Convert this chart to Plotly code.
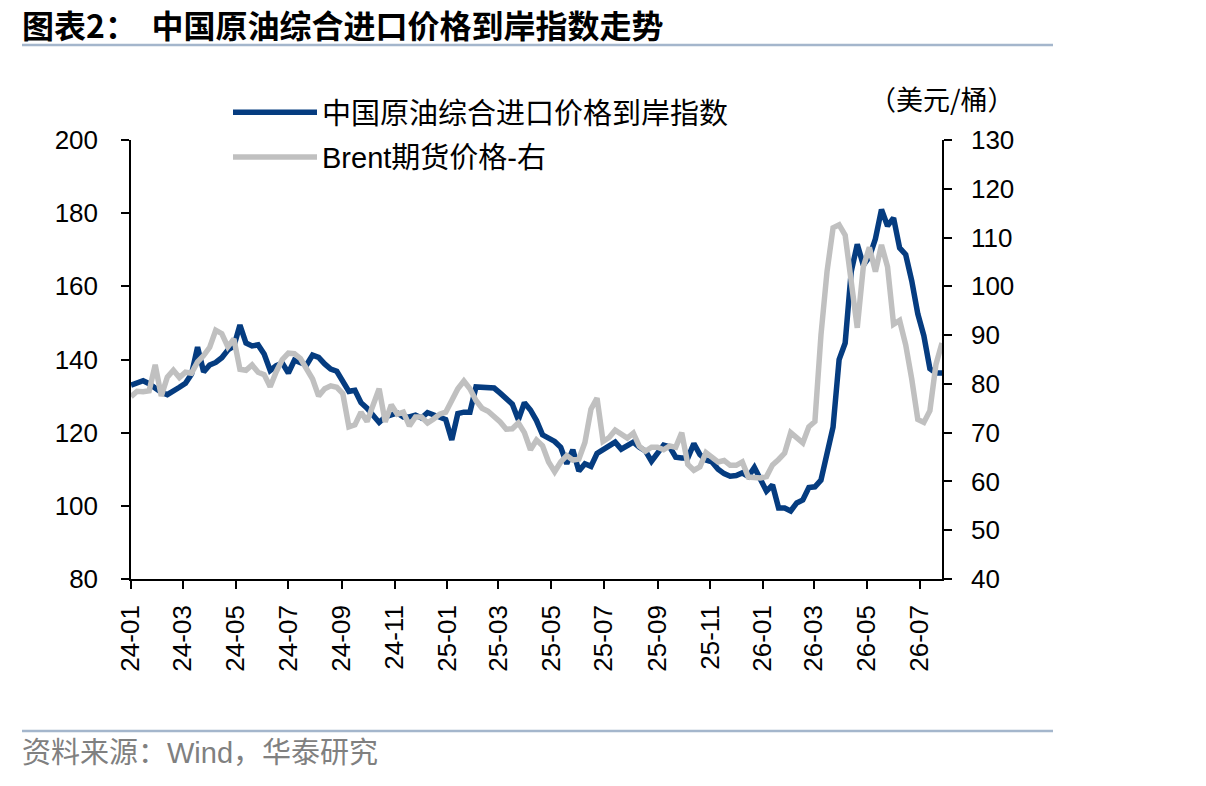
import pandas as pd
import plotly.graph_objects as go

# Weekly observation dates
dates = pd.date_range("2024-01-01", periods=135, freq="7D")

# 中国原油综合进口价格到岸指数 (left axis)
china_index = [
    133.0, 133.8, 134.2, 133.4, 132.2, 131.0, 130.4, 131.6, 132.4, 133.5,
    136.0, 143.4, 136.6, 138.5, 139.2, 140.5, 142.6, 143.6, 149.4, 144.5,
    143.7, 144.0, 141.5, 137.0, 138.3, 139.0, 136.3, 139.8, 139.0, 138.5,
    141.2, 140.6, 138.8, 137.4, 136.8, 134.0, 131.3, 131.6, 128.2, 126.7,
    124.8, 122.8, 124.3, 124.8, 125.4, 124.3, 124.3, 124.8, 124.0, 125.5,
    124.8, 124.0, 123.6, 118.0, 125.2, 125.6, 125.6, 132.5, 132.4, 132.2,
    132.2, 130.8, 129.3, 127.8, 123.5, 128.2, 126.2, 123.3, 119.4, 118.7,
    117.6, 116.0, 111.5, 115.3, 109.5, 111.5, 110.8, 114.3, 115.3, 116.0,
    117.4, 115.5, 116.6, 117.4, 116.0, 115.0, 112.2, 114.7, 116.6, 116.1,
    113.3, 113.1, 113.1, 117.0, 114.0, 112.5, 112.0, 110.0, 108.8, 108.1,
    108.3, 109.0, 108.0, 110.5, 107.0, 104.0, 105.7, 99.4, 99.4, 98.6,
    100.8, 101.6, 105.0, 105.2, 107.0, 114.0, 121.5, 140.0, 144.5, 164.0,
    171.5, 165.8, 168.0, 173.0, 181.0, 176.5, 178.7, 170.5, 168.7, 161.5,
    152.5, 146.5, 137.5, 136.3, 136.3,
]

# Brent期货价格 (right axis, 美元/桶)
brent = [
    77.4, 78.5, 78.4, 78.6, 83.9, 77.5, 81.4, 82.8, 81.3, 82.4,
    82.2, 84.5, 85.8, 87.5, 91.0, 90.3, 87.6, 89.2, 83.0, 82.8,
    83.9, 82.4, 81.9, 79.4, 82.5, 85.0, 86.3, 86.2, 85.2, 83.0,
    81.0, 77.5, 79.0, 79.6, 79.3, 78.0, 71.2, 71.6, 74.2, 72.3,
    75.3, 79.0, 72.2, 75.7, 73.8, 74.2, 71.4, 73.2, 73.2, 72.0,
    72.8, 73.8, 74.2, 76.6, 79.0, 80.6, 79.0, 76.6, 75.0, 74.4,
    73.4, 72.2, 70.7, 70.8, 72.0, 70.0, 66.5, 68.5, 67.3, 64.0,
    62.0, 64.0, 65.3, 64.4, 64.6, 68.0, 74.8, 77.1, 68.2, 69.0,
    70.5, 69.6, 68.9, 69.9, 67.2, 66.2, 67.0, 67.0, 66.5, 67.3,
    67.0, 70.0, 63.5, 62.3, 63.0, 65.9, 64.8, 64.0, 64.3, 63.3,
    63.3, 64.0, 60.9, 60.7, 60.7, 61.0, 63.4, 64.5, 65.8, 70.0,
    69.0, 67.9, 71.2, 72.3, 90.0, 103.0, 112.0, 112.6, 110.5, 100.0,
    91.5, 104.0, 108.0, 103.0, 108.5, 104.0, 92.2, 93.0, 88.0, 81.0,
    72.7, 72.1, 74.5, 84.0, 88.4,
]

tick_dates = pd.date_range("2024-01-01", "2026-07-01", freq="2MS")

W, H = 1206, 786
L, R, T, B = 131, 942, 140, 579

def px(x):
    return (x - L) / (R - L)

def py(y):
    return (B - y) / (B - T)

CJK = "Liberation Sans, Arial, Noto Sans CJK SC, sans-serif"
BLUE = "#053C80"
GREY = "#C0C0C0"

fig = go.Figure()
fig.add_trace(go.Scatter(
    x=dates, y=china_index, name="中国原油综合进口价格到岸指数",
    mode="lines", line=dict(color=BLUE, width=5.5), legendgroup="a",
))
fig.add_trace(go.Scatter(
    x=dates, y=brent, name="Brent期货价格-右", yaxis="y2",
    mode="lines", line=dict(color=GREY, width=5.5), legendgroup="b",
))

axis_common = dict(
    showline=True, linecolor="black", linewidth=1.5, ticks="outside",
    ticklen=8, tickwidth=1.5, tickcolor="black", showgrid=False, zeroline=False,
)

fig.update_layout(
    width=W, height=H,
    margin=dict(l=L, r=W - R, t=T, b=H - B),
    paper_bgcolor="white", plot_bgcolor="white",
    font=dict(family=CJK, color="black"),
    showlegend=True,
    legend=dict(
        x=px(228), y=py(87), xanchor="left", yanchor="top",
        font=dict(size=29, family=CJK), itemwidth=84,
        tracegroupgap=4, bgcolor="rgba(0,0,0,0)",
    ),
    xaxis=dict(
        type="date", range=[dates[0], dates[-1]],
        tickvals=list(tick_dates), tickformat="%y-%m", tickangle=-90,
        tickfont=dict(size=26, family="Liberation Sans, Arial"),
        ticklabelstandoff=6,
        **axis_common,
    ),
    yaxis=dict(
        range=[80, 200], dtick=20,
        tickfont=dict(size=26, family="Liberation Sans, Arial"),
        ticklabelstandoff=18,
        **axis_common,
    ),
    yaxis2=dict(
        range=[40, 130], dtick=10, overlaying="y", side="right",
        tickfont=dict(size=26, family="Liberation Sans, Arial"),
        ticklabelstandoff=14,
        **axis_common,
    ),
)

# Title and separators
fig.add_annotation(
    xref="paper", yref="paper", x=px(20), y=py(24), xanchor="left", yanchor="middle",
    text="<b>图表2：  中国原油综合进口价格到岸指数走势</b>", showarrow=False,
    font=dict(size=32, family="Noto Sans CJK SC", color="black"),
)
for yy in (45, 731):
    fig.add_shape(
        type="line", xref="paper", yref="paper",
        x0=px(22), x1=px(1053), y0=py(yy), y1=py(yy),
        line=dict(color="#A4B6CC", width=2.5),
    )
fig.add_annotation(
    xref="paper", yref="paper", x=px(942), y=py(98), xanchor="center", yanchor="middle",
    text="（美元/桶）", showarrow=False,
    font=dict(size=27, family="Noto Sans CJK SC", color="black"),
)
fig.add_annotation(
    xref="paper", yref="paper", x=px(20), y=py(753), xanchor="left", yanchor="middle",
    text="资料来源：Wind，华泰研究", showarrow=False,
    font=dict(size=29, family=CJK, color="#808080"),
)

fig.write_html("out.html")
